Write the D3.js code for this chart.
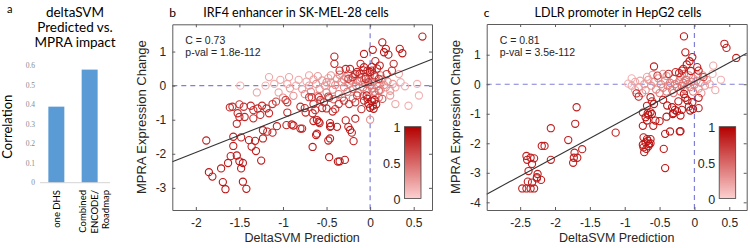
<!DOCTYPE html>
<html>
<head>
<meta charset="utf-8">
<script src="https://cdn.jsdelivr.net/npm/d3@7"></script>
<style>
  body { margin: 0; background: #fff; }
  svg { display: block; }
</style>
</head>
<body>
<div id="fig"></div>
<script>
// ---- panel a : bar chart ----
var barCategories = ["one DHS", "Combined ENCODE/ Roadmap"];
var barLabelLines = [["one DHS"], ["Combined", "ENCODE/", "Roadmap"]];
var barValues = [0.39, 0.58];
var barTicks = [0, 0.1, 0.2, 0.3, 0.4, 0.5, 0.6];
var titleA = ["deltaSVM", "Predicted vs.", "MPRA impact"];

// ---- panel b : IRF4 enhancer, points are [deltaSVM, MPRA change, colour value] ----
var titleB = "IRF4 enhancer in SK-MEL-28 cells";
var statsB = ["C = 0.73", "p-val = 1.8e-112"];
var fitB = [1.01, 0.06]; // slope, intercept
var xTicksB = [-2, -1.5, -1, -0.5, 0, 0.5];
var yTicksB = [-3, -2, -1, 0, 1];
var pointsB = [
  [-1.88,-1.61,0.85],[-1.85,-2.54,0.9],[-1.81,-2.67,0.9],[-1.71,-2.43,0.9],[-1.69,-2.83,0.9],
  [-1.66,-3.04,0.9],[-1.63,-2.27,0.85],[-1.61,-0.64,0.8],[-1.60,-2.07,0.85],[-1.57,-1.77,0.85],
  [-1.57,-1.50,0.85],[-1.53,-2.05,0.9],[-1.53,-1.12,0.8],[-1.52,-0.81,0.8],[-1.50,-0.92,0.8],
  [-1.50,-2.22,0.9],[-1.48,-2.43,0.9],[-1.48,-1.52,0.85],[-1.46,-2.82,0.9],[-1.46,-2.27,0.85],
  [-1.45,-0.62,0.75],[-1.44,-0.92,0.8],[-1.42,-3.03,0.9],[-1.39,-1.60,0.85],[-1.36,-1.79,0.85],
  [-1.34,-0.96,0.8],[-1.34,-0.72,0.8],[-1.32,-1.62,0.85],[-1.31,-1.92,0.85],[-1.29,-0.67,0.8],
  [-1.26,-0.86,0.8],[-1.25,-2.20,0.9],[-1.23,-1.55,0.85],[-1.23,-1.31,0.85],[-1.19,-0.67,0.8],
  [-1.18,-1.35,0.85],[-1.16,-0.81,0.8],[-1.12,-1.38,0.85],[-1.08,-0.47,0.7],[-1.07,-1.19,0.85],
  [-0.97,-0.42,0.7],[-0.96,-1.16,0.85],[-0.95,-0.79,0.8],[-0.90,-1.14,0.85],[-0.88,-1.17,0.85],
  [-0.80,-0.62,0.8],[-0.80,-1.26,0.85],[-0.74,-0.79,0.8],[-0.67,-0.34,0.7],[-0.66,-1.80,0.9],
  [-0.63,-0.72,0.8],[-0.62,-1.45,0.85],[-0.61,-1.01,0.85],[-0.59,-1.06,0.85],[-0.59,-0.34,0.7],
  [-0.57,-0.42,0.75],[-0.50,-0.67,0.8],[-0.48,-0.32,0.7],[-0.47,-2.10,0.9],[-0.46,-1.55,0.85],
  [-0.45,-1.19,0.85],[-0.43,-0.76,0.8],[-0.41,0.85,0.85],[-0.41,0.64,0.8],[-0.37,-2.23,0.9],
  [-0.35,-2.22,0.9],[-0.29,-2.18,0.9],[-0.25,-1.21,0.85],[-0.23,-1.30,0.85],[-0.21,-1.38,0.85],
  [-0.19,-1.63,0.85],[-0.17,-0.97,0.85],[-0.65,-1.04,0.85],[-0.58,-1.10,0.85],[-0.46,-1.10,0.85],
  [-0.46,-1.21,0.85],[-0.38,-1.21,0.85],[-0.28,-1.02,0.85],[-0.61,-1.41,0.85],[-0.48,-1.61,0.85],
  [-0.78,-1.26,0.85],[0.00,-1.00,0.3],
  [-1.58,-0.62,0.8],[-1.50,-0.55,0.75],[-1.37,-0.59,0.8],[-1.24,-0.59,0.8],[-1.12,-0.54,0.75],
  [-0.95,-0.49,0.75],
  [0.60,1.44,0.85],[0.14,1.27,0.9],[0.18,1.08,0.9],[0.21,0.91,0.9],[0.16,0.98,0.9],
  [0.34,1.08,0.9],[0.37,0.95,0.9],[0.03,1.05,0.9],[-0.07,0.93,0.85],[-0.11,0.64,0.85],
  [-0.07,0.54,0.85],[0.06,0.72,0.85],[0.11,0.59,0.85],[-0.28,0.49,0.8],[-0.23,0.49,0.8],
  [-0.35,0.44,0.8],[0.27,0.64,0.8],[0.25,0.44,0.75],[0.19,0.34,0.75],[-0.17,0.34,0.8],
  [-0.03,0.44,0.85],[0.02,0.44,0.85],
  [-0.20,0.25,0.75],[-0.12,0.35,0.8],[-0.05,0.20,0.8],[0.00,0.40,0.85],[0.05,0.30,0.8],
  [-0.08,0.45,0.85],[0.08,0.50,0.85],[-0.15,0.40,0.8],[0.02,0.55,0.85],[-0.25,0.20,0.7],
  [0.10,0.20,0.75],[-0.02,0.10,0.7],
  [-0.03,-0.39,0.9],[0.02,-0.46,0.9],[-0.02,-0.53,0.9],[0.03,-0.59,0.9],[0.00,-0.65,0.9],
  [0.05,-0.42,0.9],[-0.04,-0.29,0.85],[0.04,-0.68,0.9],[0.07,-0.55,0.9],
  [-0.70,-0.34,0.7],[-0.65,-0.54,0.75],[-0.53,-0.49,0.75],[-0.47,-0.36,0.7],[-0.36,-0.54,0.75],
  [-0.30,-0.44,0.75],[-0.24,-0.54,0.75],[-0.17,-0.49,0.75],[-0.15,-0.29,0.7],[-0.07,-0.44,0.8],
  [-0.66,-0.81,0.8],[-0.40,-0.69,0.8],[-0.55,-0.66,0.8],[-0.75,-0.66,0.8],[-0.10,-0.69,0.8],
  [0.14,-0.39,0.6],[0.10,-0.15,0.5],
  [-1.49,0.00,0.15],[-1.16,0.25,0.2],[-0.93,0.25,0.2],[-1.03,0.17,0.2],[-0.92,-0.08,0.25],
  [-0.82,0.17,0.2],[-0.73,0.12,0.2],[-0.70,0.00,0.25],[-0.65,0.18,0.2],[-0.62,0.05,0.3],
  [-0.58,-0.10,0.3],[-0.55,0.15,0.25],[-0.52,0.00,0.3],[-0.50,-0.20,0.35],[-0.48,0.22,0.2],
  [-0.45,0.08,0.3],[-0.43,-0.12,0.35],[-0.40,0.02,0.3],[-0.38,0.20,0.3],[-0.36,-0.25,0.4],
  [-0.33,0.10,0.35],[-0.30,-0.05,0.35],[-0.28,0.25,0.3],[-0.26,-0.18,0.4],[-0.24,0.05,0.35],
  [-0.22,0.15,0.4],[-0.20,-0.10,0.4],[-0.18,0.30,0.4],[-0.16,0.00,0.4],[-0.14,-0.22,0.45],
  [-0.12,0.12,0.4],[-0.10,0.22,0.45],[-0.08,-0.05,0.4],[-0.06,0.08,0.45],[-0.04,-0.15,0.45],
  [-0.02,0.18,0.45],[0.00,0.02,0.4],[0.02,-0.08,0.4],[0.04,0.12,0.4],[0.06,0.25,0.45],
  [0.08,-0.02,0.35],[0.10,0.08,0.35],[0.12,-0.12,0.35],[0.14,0.18,0.35],[0.16,0.02,0.3],
  [0.18,-0.05,0.3],[0.20,0.12,0.3],[0.23,-0.15,0.25],[0.26,0.05,0.25],[0.29,-0.05,0.2],
  [0.33,0.34,0.2],[0.35,0.10,0.15],[0.40,-0.02,0.15],[0.54,0.05,0.15],[0.56,-0.29,0.15],
  [0.44,-0.59,0.15],[0.29,-0.54,0.2],[0.23,-0.29,0.25],[-0.85,0.00,0.2],[-0.78,-0.10,0.25],
  [-0.95,0.05,0.2],[-1.05,-0.20,0.2],[-1.20,0.00,0.15],[-1.00,-0.35,0.3],[-0.88,-0.30,0.3],
  [-0.75,-0.25,0.35],[-0.68,-0.18,0.35],[-0.60,-0.30,0.4],[-0.42,-0.40,0.45],[-0.32,-0.35,0.45],
  [-0.20,-0.38,0.5],[-0.08,-0.30,0.5],[0.06,-0.28,0.5],[0.10,-0.35,0.45],[-0.35,0.32,0.35],
  [-0.45,0.30,0.3],[-0.60,0.28,0.25],[-0.25,0.35,0.4],[0.00,0.32,0.45],[0.12,0.30,0.4],
  [-1.30,-0.20,0.2],[-1.10,0.05,0.15],[-0.70,0.30,0.2],[-0.15,0.15,0.45],[-0.05,0.25,0.45],
  [0.05,-0.18,0.45],[-0.30,0.18,0.35],[-0.50,0.10,0.3]
];

// ---- panel c : LDLR promoter ----
var titleC = "LDLR promoter in HepG2 cells";
var statsC = ["C = 0.81", "p-val = 3.5e-112"];
var fitC = [1.28, 0.09];
var xTicksC = [-2.5, -2, -1.5, -1, -0.5, 0, 0.5];
var yTicksC = [-4, -3, -2, -1, 0, 1];
var pointsC = [
  [-2.47,-3.53,0.85],[-2.41,-3.53,0.85],[-2.35,-3.53,0.85],[-2.30,-3.53,0.85],[-2.39,-3.30,0.85],
  [-2.33,-3.33,0.85],[-2.26,-3.19,0.85],[-2.25,-3.04,0.85],[-2.38,-2.94,0.85],[-2.41,-2.43,0.85],
  [-2.35,-2.49,0.85],[-2.30,-2.51,0.85],[-2.40,-2.56,0.85],[-2.33,-2.70,0.85],[-2.19,-2.09,0.85],
  [-2.15,-2.09,0.85],[-2.06,-2.56,0.85],[-2.06,-1.49,0.85],[-1.81,-1.89,0.85],[-1.72,-2.32,0.85],
  [-1.73,-2.49,0.85],[-1.74,-2.66,0.85],[-1.68,-2.49,0.85],[-1.71,-1.34,0.85],[-1.61,-2.20,0.85],
  [-1.69,-0.78,0.85],[-1.13,-1.64,0.85],[-2.26,-3.15,0.85],[-2.20,-3.24,0.85],
  [-0.15,1.62,0.9],[-0.13,1.08,0.9],[0.43,1.37,0.85],[0.46,1.23,0.85],[0.60,0.89,0.85],
  [-0.03,0.92,0.9],[-0.07,0.78,0.9],[-0.11,0.67,0.9],[-0.58,0.60,0.85],[-0.18,0.46,0.85],
  [-0.16,0.52,0.85],[0.04,0.58,0.85],[0.06,0.46,0.85],[-0.37,0.35,0.8],[-0.27,0.41,0.8],
  [-0.53,0.29,0.75],[0.13,0.24,0.7],[-0.22,0.38,0.8],[-0.05,0.45,0.85],
  [-0.80,-0.42,0.85],[-0.63,-0.44,0.85],[-0.61,-0.58,0.85],[-0.58,-0.67,0.85],[-0.61,-1.01,0.9],
  [-0.63,-0.95,0.9],[-0.67,-0.98,0.9],[-0.70,-1.12,0.9],[-0.68,-1.23,0.9],[-0.56,-1.23,0.9],
  [-0.50,-1.25,0.9],[-0.40,-1.10,0.9],[-0.31,-1.01,0.9],[-0.30,-0.98,0.9],[-0.39,-0.72,0.9],
  [-0.32,-0.78,0.9],[-0.23,-0.58,0.9],[-0.15,-0.33,0.85],[-0.13,-0.46,0.9],[-0.10,-0.55,0.9],
  [-0.08,-0.76,0.9],[-0.06,-0.89,0.9],[-0.03,-0.61,0.9],[-0.18,-0.87,0.9],[-0.20,-1.06,0.9],
  [-0.25,-0.92,0.9],[-0.02,-0.84,0.9],[0.06,-0.46,0.85],[-0.20,-1.59,0.9],[-0.42,-1.68,0.9],
  [-0.44,-2.19,0.9],[-0.42,-2.84,0.9],[0.06,-0.81,0.85],[-0.83,-0.31,0.8],[-0.68,-0.73,0.85],
  [-0.74,-0.96,0.85],[-0.45,-0.53,0.85],[-0.35,-1.60,0.9],[-0.21,-1.60,0.9],[-0.28,-0.87,0.9],
  [-0.59,-1.41,0.9],[-0.74,-1.41,0.9],[-0.66,-1.04,0.9],
  [-0.73,-1.80,0.9],[-0.68,-1.86,0.9],[-0.63,-1.86,0.9],[-0.70,-1.97,0.9],[-0.65,-2.03,0.9],
  [-0.73,-2.14,0.9],[-0.69,-2.19,0.9],[-0.63,-2.00,0.9],[-0.74,-2.05,0.9],[-0.67,-1.92,0.9],
  [-0.72,-2.30,0.9],[-0.66,-2.10,0.9],
  [-0.95,0.02,0.15],[-0.90,-0.05,0.2],[-0.85,0.08,0.2],[-0.80,-0.10,0.25],[-0.78,0.12,0.2],
  [-0.72,0.00,0.25],[-0.70,-0.20,0.3],[-0.66,0.15,0.25],[-0.62,-0.05,0.3],[-0.58,0.08,0.3],
  [-0.55,-0.18,0.35],[-0.52,0.20,0.3],[-0.48,0.00,0.35],[-0.45,-0.12,0.35],[-0.42,0.12,0.35],
  [-0.40,0.28,0.3],[-0.38,-0.05,0.4],[-0.35,0.05,0.4],[-0.32,-0.20,0.4],[-0.30,0.18,0.4],
  [-0.28,0.00,0.4],[-0.25,-0.10,0.45],[-0.22,0.10,0.4],[-0.20,0.25,0.4],[-0.18,-0.05,0.45],
  [-0.16,0.05,0.45],[-0.14,-0.18,0.45],[-0.12,0.15,0.45],[-0.10,0.00,0.4],[-0.08,0.30,0.4],
  [-0.06,-0.10,0.4],[-0.04,0.08,0.4],[-0.02,0.20,0.35],[0.00,-0.02,0.35],[0.03,0.12,0.35],
  [0.06,-0.15,0.3],[0.09,0.05,0.3],[0.12,0.30,0.3],[0.15,-0.05,0.25],[0.18,0.15,0.25],
  [0.22,0.00,0.2],[0.27,0.63,0.2],[0.26,0.35,0.15],[0.30,-0.20,0.2],[0.38,0.15,0.15],
  [-0.50,-0.30,0.4],[-0.30,-0.30,0.45],[-0.68,0.25,0.2],[-0.90,0.20,0.15],[-0.60,0.32,0.25],
  [-0.45,0.35,0.3],[-0.15,0.35,0.35],[0.05,0.30,0.3],[-0.02,-0.25,0.4],[0.10,-0.30,0.3],
  [-0.20,-0.25,0.45],[-0.40,-0.25,0.4],[-0.75,-0.30,0.3],[-0.85,-0.20,0.2]
];

var colorbarTicks = [0, 0.5, 1];

var W = 750, H = 248;
var svg = d3.select("#fig").append("svg")
  .attr("width", W).attr("height", H);

var color = d3.scaleLinear().domain([0, 1]).range(["#fcd0d0", "#b40000"]);
var axisFont = "'Liberation Sans', Arial, sans-serif";
var titleFont = "Lato, 'Open Sans', sans-serif";

// gradient for the colour bars
var grad = svg.append("defs").append("linearGradient")
  .attr("id", "cbar").attr("x1", 0).attr("y1", 1).attr("x2", 0).attr("y2", 0);
grad.append("stop").attr("offset", "0%").attr("stop-color", color(0));
grad.append("stop").attr("offset", "100%").attr("stop-color", color(1));

// ================= panel a =================
var ga = svg.append("g");
ga.append("text").attr("x", 7).attr("y", 13).text("a")
  .style("font-family", titleFont).style("font-size", "11px");
titleA.forEach(function(t, i) {
  ga.append("text").attr("x", 75).attr("y", 16.5 + i * 15.3)
    .attr("text-anchor", "middle").text(t)
    .style("font-family", titleFont).style("font-size", "13.5px");
});

var xBar = d3.scaleBand().domain(barCategories)
  .range([39.7, 106.3]).paddingInner(0.52).paddingOuter(0.26);
var yBar = d3.scaleLinear().domain([0, 0.6]).range([182.7, 65.7]);

ga.selectAll(".ytl").data(barTicks).enter().append("text")
  .attr("x", 35).attr("y", function(d) { return yBar(d) + 2.5; })
  .attr("text-anchor", "end")
  .text(function(d) { return d === 0 ? "0" : d.toFixed(1); })
  .style("font-family", "'Liberation Serif', serif").style("font-size", "7.5px")
  .style("fill", "#8a8a8a");

ga.selectAll("rect").data(barValues).enter().append("rect")
  .attr("x", function(d, i) { return xBar(barCategories[i]); })
  .attr("width", xBar.bandwidth())
  .attr("y", function(d) { return yBar(d); })
  .attr("height", function(d) { return yBar(0) - yBar(d); })
  .attr("fill", "#5b9bd5");

ga.append("line").attr("x1", 40).attr("x2", 110)
  .attr("y1", yBar(0)).attr("y2", yBar(0))
  .attr("stroke", "#d4d4d4").attr("stroke-width", 1);

ga.append("text")
  .attr("transform", "translate(12," + 126.7 + ") rotate(-90)")
  .attr("text-anchor", "middle").text("Correlation")
  .style("font-family", titleFont).style("font-size", "13px");

barLabelLines.forEach(function(lines, i) {
  var cx = xBar(barCategories[i]) + xBar.bandwidth() / 2;
  var off = lines.length === 1 ? [0] : [-7, 4.5, 16];
  lines.forEach(function(t, j) {
    ga.append("text")
      .attr("transform", "translate(" + (cx + off[j] + 3.5) + ",190) rotate(-90)")
      .attr("text-anchor", "end").text(t)
      .style("font-family", titleFont).style("font-size", "9.5px");
  });
});

// ================= scatter panels =================
function scatterPanel(opt) {
  var g = svg.append("g");
  var x = d3.scaleLinear().domain(opt.xDomain).range([opt.left, opt.right]);
  var y = d3.scaleLinear().domain(opt.yDomain).range([opt.bottom, opt.top]);

  // panel letter and title
  g.append("text").attr("x", opt.left - 3).attr("y", 17).text(opt.letter)
    .style("font-family", titleFont).style("font-size", "12px");
  g.append("text").attr("x", opt.titleX).attr("y", 17).attr("text-anchor", "middle")
    .text(opt.title)
    .style("font-family", titleFont).style("font-size", "12.5px");

  // zero lines
  g.append("line").attr("x1", x(0)).attr("x2", x(0))
    .attr("y1", opt.top).attr("y2", opt.bottom)
    .attr("stroke", "#7f7fd6").attr("stroke-width", 1.2).attr("stroke-dasharray", "5,4");
  g.append("line").attr("x1", opt.left).attr("x2", opt.right)
    .attr("y1", y(0)).attr("y2", y(0))
    .attr("stroke", "#7f7fd6").attr("stroke-width", 1.2).attr("stroke-dasharray", "5,4");

  // points, light ones first
  var pts = opt.points.slice().sort(function(a, b) { return a[2] - b[2]; });
  g.append("g").selectAll("circle").data(pts).enter().append("circle")
    .attr("cx", function(d) { return x(d[0]); })
    .attr("cy", function(d) { return y(d[1]); })
    .attr("r", 3.6)
    .attr("fill", "none")
    .attr("stroke", function(d) { return color(d[2]); })
    .attr("stroke-width", 1.1);

  // least squares line across the axes
  var xd = opt.xDomain;
  g.append("line")
    .attr("x1", x(xd[0])).attr("y1", y(opt.fit[0] * xd[0] + opt.fit[1]))
    .attr("x2", x(xd[1])).attr("y2", y(opt.fit[0] * xd[1] + opt.fit[1]))
    .attr("stroke", "#333").attr("stroke-width", 1.1);

  // axes, ticks inward on all four sides
  var tickStyle = function(sel) {
    sel.select(".domain").attr("stroke", "#5c5c5c");
    sel.selectAll(".tick line").attr("stroke", "#5c5c5c");
    sel.selectAll(".tick text").style("font-family", axisFont)
      .style("font-size", "12px").style("fill", "#262626");
  };
  var fmt = function(d) { return String(d); };
  g.append("g").attr("transform", "translate(0," + opt.bottom + ")")
    .call(d3.axisBottom(x).tickValues(opt.xTicks).tickFormat(fmt).tickSizeInner(-3).tickSizeOuter(0).tickPadding(8))
    .call(tickStyle);
  g.append("g").attr("transform", "translate(0," + opt.top + ")")
    .call(d3.axisTop(x).tickValues(opt.xTicks).tickFormat("").tickSizeInner(-3).tickSizeOuter(0))
    .call(tickStyle);
  g.append("g").attr("transform", "translate(" + opt.left + ",0)")
    .call(d3.axisLeft(y).tickValues(opt.yTicks).tickFormat(fmt).tickSizeInner(-3).tickSizeOuter(0).tickPadding(6))
    .call(tickStyle);
  g.append("g").attr("transform", "translate(" + opt.right + ",0)")
    .call(d3.axisRight(y).tickValues(opt.yTicks).tickFormat("").tickSizeInner(-3).tickSizeOuter(0))
    .call(tickStyle);

  // axis titles
  g.append("text").attr("x", (opt.left + opt.right) / 2).attr("y", 242)
    .attr("text-anchor", "middle").text("DeltaSVM Prediction")
    .style("font-family", axisFont).style("font-size", "12.5px").style("fill", "#262626");
  g.append("text")
    .attr("transform", "translate(" + (opt.left - 26.5) + "," + ((opt.top + opt.bottom) / 2) + ") rotate(-90)")
    .attr("text-anchor", "middle").text("MPRA Expression Change")
    .style("font-family", axisFont).style("font-size", "13px").style("fill", "#262626");

  // stats text
  opt.stats.forEach(function(t, i) {
    g.append("text").attr("x", opt.left + 13).attr("y", 44 + i * 12).text(t)
      .style("font-family", axisFont).style("font-size", "10.5px").style("fill", "#262626");
  });

  // colour bar
  var cbX = opt.right - 27.5, cbW = 16.5;
  var cb = d3.scaleLinear().domain([0, 1]).range([198.5, 126.7]);
  g.append("rect").attr("x", cbX).attr("y", cb(1))
    .attr("width", cbW).attr("height", cb(0) - cb(1))
    .attr("fill", "url(#cbar)").attr("stroke", "#444").attr("stroke-width", 0.8);
  g.selectAll(".cbt").data(colorbarTicks).enter().append("text")
    .attr("x", cbX - 4).attr("y", function(d) { return cb(d) + 5; })
    .attr("text-anchor", "end").text(function(d) { return String(d); })
    .style("font-family", axisFont).style("font-size", "12.5px").style("fill", "#262626");
}

scatterPanel({
  letter: "b", title: titleB, titleX: 296,
  left: 172.3, right: 432, top: 24.3, bottom: 210,
  xDomain: [-2.27, 0.71], yDomain: [-3.65, 1.8],
  xTicks: xTicksB, yTicks: yTicksB,
  points: pointsB, fit: fitB, stats: statsB
});

scatterPanel({
  letter: "c", title: titleC, titleX: 618,
  left: 486.7, right: 746.7, top: 24, bottom: 210,
  xDomain: [-2.98, 0.75], yDomain: [-4.26, 2.04],
  xTicks: xTicksC, yTicks: yTicksC,
  points: pointsC, fit: fitC, stats: statsC
});
</script>
</body>
</html>
